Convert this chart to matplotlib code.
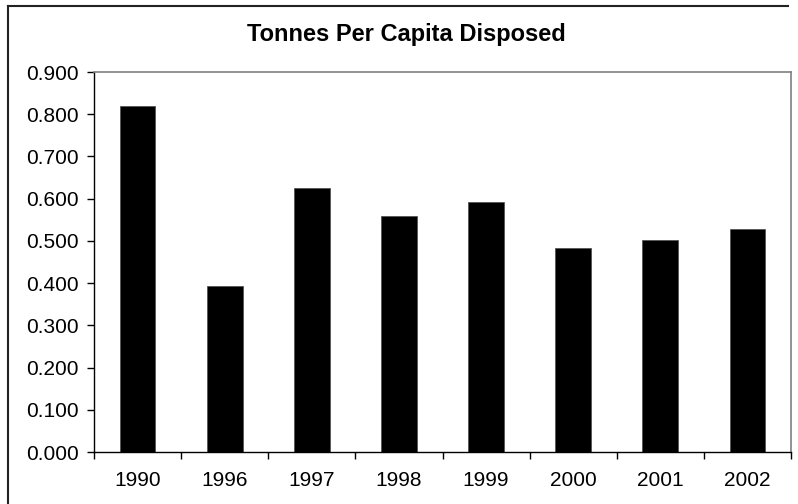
import matplotlib
matplotlib.use('Agg')
import matplotlib.pyplot as plt
from matplotlib.lines import Line2D
import numpy as np

# Datos
years = ['1990', '1996', '1997', '1998', '1999', '2000', '2001', '2002']
tonnes = [0.820, 0.394, 0.625, 0.559, 0.591, 0.483, 0.501, 0.529]

plt.rcParams['font.family'] = ['Liberation Sans', 'DejaVu Sans']

fig = plt.figure(figsize=(7.98, 5.04), dpi=100)
ax = fig.add_axes([94 / 798, 1 - 452 / 504, (791 - 94) / 798, (452 - 72) / 504])

x = np.arange(len(years))
ax.bar(x, tonnes, width=0.41, color='black', edgecolor='#555555', linewidth=0.6)

ax.set_xlim(-0.5, len(years) - 0.5)
ax.set_ylim(0, 0.9)
ax.set_yticks(np.arange(0, 0.91, 0.1))
ax.set_yticklabels(['%.3f' % v for v in np.arange(0, 0.91, 0.1)])

# ticks del eje x entre categorías, etiquetas centradas
ax.set_xticks(np.arange(-0.5, len(years), 1.0))
ax.set_xticklabels([])
ax.set_xticks(x, minor=True)
ax.set_xticklabels(years, minor=True)
ax.tick_params(axis='x', which='minor', length=0, pad=14, labelsize=15)
ax.tick_params(axis='x', which='major', length=5, width=1, direction='out')
ax.tick_params(axis='y', length=5, width=1, direction='out', pad=6, labelsize=15)

for s in ['left', 'bottom']:
    ax.spines[s].set_color('black')
    ax.spines[s].set_linewidth(1)
for s in ['top', 'right']:
    ax.spines[s].set_color('#808080')
    ax.spines[s].set_linewidth(1.2)

fig.text(406 / 798, 1 - 35 / 504, 'Tonnes Per Capita Disposed', ha='center', va='center',
         fontsize=17, fontweight='bold')

# marco exterior (solo izquierda y arriba visibles)
fig.add_artist(Line2D([8 / 798, 8 / 798], [0, 1 - 5.5 / 504], transform=fig.transFigure,
                      color='#222222', linewidth=1.5))
fig.add_artist(Line2D([8 / 798, 788 / 798], [1 - 5.5 / 504, 1 - 5.5 / 504], transform=fig.transFigure,
                      color='#222222', linewidth=1.5))

fig.savefig('out.png', dpi=100)
